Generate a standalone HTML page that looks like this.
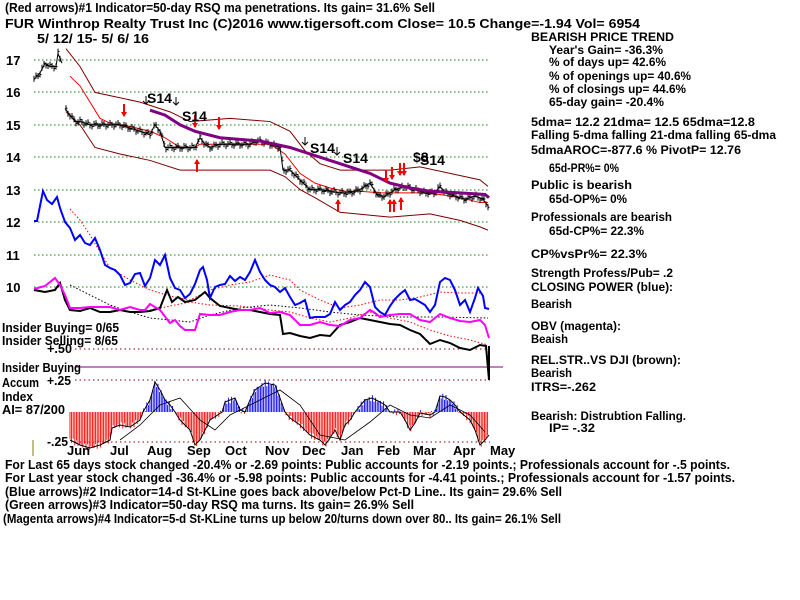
<!DOCTYPE html>
<html><head><meta charset="utf-8"><style>
html,body{margin:0;padding:0;background:#fff;}
svg{display:block;}
text{font-family:"Liberation Sans",Arial,sans-serif;font-weight:bold;fill:#000;}
</style></head><body>
<svg id="s" width="800" height="600" viewBox="0 0 800 600" xmlns="http://www.w3.org/2000/svg">
<g font-size="13">
<text x="5" y="12" textLength="430" lengthAdjust="spacingAndGlyphs">(Red arrows)#1 Indicator=50-day RSQ ma penetrations. Its gain= 31.6% Sell</text>
<text x="5" y="28" textLength="635" lengthAdjust="spacingAndGlyphs">FUR   Winthrop Realty Trust Inc   (C)2016 www.tigersoft.com      Close=  10.5   Change=-1.94  Vol= 6954</text>
<text x="37" y="43" textLength="112" lengthAdjust="spacingAndGlyphs">5/ 12/ 15- 5/ 6/ 16</text>
<text x="6" y="65">17</text><text x="6" y="97">16</text><text x="6" y="130">15</text><text x="6" y="162">14</text>
<text x="6" y="195">13</text><text x="6" y="227">12</text><text x="6" y="260">11</text><text x="6" y="292">10</text>
</g>
<g stroke="#008000" stroke-dasharray="1.5,2.5" stroke-width="1">
<line x1="34" y1="60" x2="490" y2="60"/><line x1="34" y1="92" x2="490" y2="92"/><line x1="34" y1="125" x2="490" y2="125"/><line x1="34" y1="157" x2="490" y2="157"/><line x1="34" y1="190" x2="490" y2="190"/><line x1="34" y1="222" x2="490" y2="222"/><line x1="34" y1="255" x2="490" y2="255"/><line x1="34" y1="287" x2="490" y2="287"/>
</g>
<g stroke="#800000" stroke-dasharray="1.5,3" stroke-width="1">
<line x1="75" y1="349" x2="490" y2="349"/><line x1="75" y1="380" x2="490" y2="380"/><line x1="75" y1="442" x2="490" y2="442"/>
</g>
<line x1="75" y1="367" x2="503" y2="367" stroke="#800080" stroke-width="1"/>
<line x1="33" y1="440" x2="33" y2="456" stroke="#808000" stroke-width="1"/>
<g id="dyn"></g>
<g font-size="13">
<text x="2" y="332" textLength="117" lengthAdjust="spacingAndGlyphs">Insider Buying= 0/65</text>
<text x="2" y="345" textLength="116" lengthAdjust="spacingAndGlyphs">Insider Selling= 8/65</text>
<text x="47" y="353" textLength="25" lengthAdjust="spacingAndGlyphs">+.50</text>
<text x="2" y="372" textLength="79" lengthAdjust="spacingAndGlyphs">Insider Buying</text>
<text x="2" y="387" textLength="37" lengthAdjust="spacingAndGlyphs">Accum</text>
<text x="47" y="385" textLength="24" lengthAdjust="spacingAndGlyphs">+.25</text>
<text x="2" y="401" textLength="31" lengthAdjust="spacingAndGlyphs">Index</text>
<text x="2" y="414" textLength="63" lengthAdjust="spacingAndGlyphs">AI= 87/200</text>
<text x="47" y="446" textLength="21" lengthAdjust="spacingAndGlyphs">-.25</text>
<text x="67" y="455">Jun</text><text x="110" y="455">Jul</text><text x="147" y="455">Aug</text><text x="187" y="455">Sep</text><text x="225" y="455">Oct</text><text x="265" y="455">Nov</text><text x="302" y="455">Dec</text><text x="341" y="455">Jan</text><text x="377" y="455">Feb</text><text x="413" y="455">Mar</text><text x="453" y="455">Apr</text><text x="490" y="455">May</text>
<text x="5" y="469" textLength="725" lengthAdjust="spacingAndGlyphs">For Last 65 days stock changed -20.4% or -2.69 points:  Public accounts for -2.19 points.;  Professionals account for -.5 points.</text>
<text x="5" y="482" textLength="730" lengthAdjust="spacingAndGlyphs">For Last year stock changed -36.4% or -5.98 points:  Public accounts for -4.41 points.;  Professionals account for -1.57 points.</text>
<text x="5" y="496" textLength="557" lengthAdjust="spacingAndGlyphs">(Blue arrows)#2 Indicator=14-d St-KLine goes back above/below Pct-D Line.. Its gain= 29.6% Sell</text>
<text x="5" y="509" textLength="409" lengthAdjust="spacingAndGlyphs">(Green arrows)#3 Indicator=50-day RSQ ma turns. Its gain= 26.9% Sell</text>
<text x="3" y="523" textLength="558" lengthAdjust="spacingAndGlyphs">(Magenta arrows)#4 Indicator=5-d St-KLine turns up below 20/turns down over 80.. Its gain= 26.1% Sell</text>
</g>
<g font-size="12" id="rp"></g>
<g font-size="14">
<text x="147" y="103">S14</text><text x="182" y="121">S14</text><text x="310" y="153">S14</text><text x="343" y="163">S14</text><text x="413" y="162">$8</text><text x="420" y="165">S14</text>
</g>
</svg>
<script>
var NS="http://www.w3.org/2000/svg",dyn=document.getElementById("dyn");
function el(t,a){var e=document.createElementNS(NS,t);for(var k in a)e.setAttribute(k,a[k]);dyn.appendChild(e);return e;}
function P(x){return 60+(17-x)*32.4;}
function pl(pts,price,attrs){var s=[];for(var i=0;i<pts.length;i+=2)s.push(pts[i]+","+(price?P(pts[i+1]):pts[i+1]));attrs.points=s.join(" ");attrs.fill="none";el("polyline",attrs);}
function interp(pts,x){for(var i=0;i<pts.length-2;i+=2){if(x>=pts[i]&&x<=pts[i+2]){var t=(x-pts[i])/(pts[i+2]-pts[i]);return pts[i+1]+t*(pts[i+3]-pts[i+1]);}}return pts[pts.length-1];}
var ai=[70,440,80,445,90,448,100,445,110,440,112,428,120,425,130,427,140,420,143,412,150,400,155,382,160,390,165,400,170,405,175,412,180,420,190,430,195,445,200,440,205,430,210,420,222,412,225,402,235,398,240,410,245,412,250,400,255,390,265,383,275,385,280,398,285,412,290,418,300,425,310,435,320,440,325,445,330,438,335,430,340,440,345,425,350,420,355,412,365,400,372,398,380,402,385,405,390,412,400,412,405,420,410,430,415,423,420,413,430,415,435,412,440,396,445,397,450,400,455,405,460,412,470,420,475,430,480,445,485,440,489,435];
for(var x=70;x<=489;x+=1.6){var y=interp(ai,x)+Math.sin(x*1.7)*3;el("line",{x1:x,y1:412,x2:x,y2:y,stroke:y<412?"#0000ff":"#ff0000","stroke-width":"0.9"});}
pl(ai,false,{stroke:"#000","stroke-width":"1"});
pl([120,440,140,425,160,405,180,398,200,420,215,430,230,415,250,405,280,390,300,405,320,435,345,440,370,422,390,405,410,415,430,418,450,405,470,415,485,432],false,{stroke:"#000","stroke-width":"0.8"});
pl([70,209,80,220,90,235,100,252,110,268,130,280,150,290,170,296,190,300,210,290,230,285,250,282,270,275,290,280,300,290,320,300,340,308,360,305,380,300,400,300,420,297,440,292,460,293,480,293],false,{stroke:"#ff0000","stroke-dasharray":"1.5,2"});
pl([150,310,170,306,190,302,210,305,240,306,270,310,290,312,310,318,330,322,350,318,370,312,390,318,410,322,430,330,450,336,470,340,488,345],false,{stroke:"#ff0000","stroke-dasharray":"1.5,2"});
pl([70,285,90,295,110,305,130,312,150,318,170,320,190,322,210,315,240,308,270,305,300,308,330,312,360,315,400,317,440,317,488,318],false,{stroke:"#000","stroke-dasharray":"1.5,2"});
pl([34,290,45,292,55,290,60,283,65,300,70,310,80,311,90,308,100,312,110,312,120,310,130,312,140,312,150,311,160,308,167,290,172,302,178,297,185,302,195,300,200,296,205,292,210,298,220,306,230,308,240,310,250,310,260,312,270,314,280,315,283,334,290,333,300,336,310,338,320,335,330,336,340,325,350,322,360,318,370,320,380,322,390,324,400,325,410,330,420,334,430,344,440,340,450,343,460,348,470,350,480,345,486,346,489,380],false,{stroke:"#000","stroke-width":"2"});
pl([34,289,45,286,55,278,60,285,65,295,70,308,80,308,90,307,100,307,110,307,120,310,130,307,140,310,145,310,150,304,160,310,170,323,175,320,180,326,185,330,195,330,200,314,210,315,220,315,230,312,240,310,250,310,260,308,270,313,280,312,290,315,300,325,310,325,320,322,330,325,340,326,350,320,360,318,370,310,375,313,380,317,390,315,400,314,410,314,420,320,430,322,440,314,450,318,460,321,470,322,480,320,485,325,489,338],false,{stroke:"#ff00ff","stroke-width":"2"});
pl([34,221,37,221,40,206,43,191,47,200,52,204,57,197,60,208,65,222,70,228,75,240,80,235,85,243,90,245,95,238,100,250,105,265,110,268,115,270,120,275,125,285,130,283,135,274,140,273,145,286,150,278,155,260,160,265,165,255,170,278,175,288,180,290,185,298,190,294,195,284,200,270,203,267,207,280,210,298,215,287,220,285,225,284,230,276,235,281,240,277,245,280,250,272,255,260,260,272,265,280,270,285,275,287,280,292,285,288,290,297,295,305,300,303,305,300,310,318,315,317,320,317,325,317,330,314,335,302,340,310,345,305,350,302,355,295,360,290,365,282,370,287,375,307,380,312,385,315,390,306,395,299,400,294,405,290,410,300,415,299,420,302,425,305,430,312,435,305,440,282,445,278,450,280,455,290,460,305,465,300,470,312,475,298,478,288,483,296,485,308,489,309],false,{stroke:"#0000ff","stroke-width":"2"});
el("line",{x1:489,y1:346,x2:489,y2:380,stroke:"#000","stroke-width":"2"});
pl([66,17.35,80,16.8,95,16.0,110,15.9,140,15.7,170,15.4,190,15.1,230,15.2,270,15.1,290,14.8,305,14.2,320,13.8,340,13.6,360,13.6,390,13.6,420,13.7,450,13.5,480,13.3,488,13.1],true,{stroke:"#800000","stroke-width":"1"});
pl([66,15.4,80,15.0,95,14.3,120,14.1,150,13.9,180,13.6,200,13.6,230,13.6,270,13.6,285,13.4,300,13.0,315,12.75,340,12.3,390,12.15,430,12.25,460,12.05,480,11.85,488,11.75],true,{stroke:"#800000","stroke-width":"1"});
pl([70,16.5,80,16.2,90,15.7,100,15.2,110,15.05,130,14.95,150,14.8,165,14.6,180,14.3,195,14.3,200,14.4,230,14.4,270,14.4,285,14.1,300,13.5,315,13.2,330,13.05,345,12.95,360,12.95,380,12.9,400,12.9,420,12.9,440,12.85,460,12.75,480,12.6,488,12.6],true,{stroke:"#ff0000","stroke-width":"1"});
var pr=[34,16.4,40,16.6,45,16.9,50,16.8,56,16.8,58,17.2,62,16.9,65,15.5,70,15.3,75,15.1,80,15.1,90,15.0,100,15.0,110,15.0,120,15.0,130,14.9,140,14.8,150,14.7,155,15.0,160,14.8,165,14.3,170,14.3,180,14.3,190,14.3,195,14.3,200,14.6,205,14.4,210,14.3,220,14.4,230,14.4,240,14.4,250,14.4,256,14.5,260,14.5,270,14.4,280,14.3,283,13.6,290,13.6,300,13.3,310,13.0,320,13.0,330,12.95,340,12.9,350,12.9,360,13.0,370,13.2,378,12.8,385,12.8,395,13.0,405,13.1,415,13.0,425,12.9,435,12.9,440,13.1,445,12.9,455,12.8,465,12.7,475,12.8,483,12.7,488,12.5];
for(var x=34;x<=488;x+=2){if(x>61&&x<65)continue;var p=interp(pr,x)+Math.sin(x*2.3)*0.06;var y=P(p);el("line",{x1:x,y1:y-3,x2:x,y2:y+3,stroke:"#000","stroke-width":"1"});el("line",{x1:x,y1:y,x2:x+1.5,y2:y,stroke:"#000","stroke-width":"1"});}
pl(pr.slice(0,14),true,{stroke:"#000","stroke-width":"1"});
pl(pr.slice(14),true,{stroke:"#000","stroke-width":"1"});
pl([150,15.45,165,15.3,180,15.0,195,14.8,220,14.6,260,14.5,290,14.3,320,14.0,345,13.75,370,13.5,390,13.2,410,13.05,430,12.95,460,12.9,485,12.85,489,12.75],true,{stroke:"#800080","stroke-width":"3"});
function arr(x,y,up){var d=up?-1:1;el("line",{x1:x,y1:y,x2:x,y2:y+12*d,stroke:"#ff0000","stroke-width":"2"});el("polygon",{points:(x-3)+","+(y+8*d)+" "+(x+3)+","+(y+8*d)+" "+x+","+(y+13*d),fill:"#ff0000"});}
arr(124,104,false);arr(195,115,false);arr(219,117,false);arr(197,172,true);arr(386,170,false);arr(392,167,false);arr(400,163,false);arr(404,163,false);arr(338,212,true);arr(390,212,true);arr(394,212,true);arr(401,210,true);
[[146,104],[176,105],[305,145],[337,155]].forEach(function(a){el("line",{x1:a[0],y1:a[1]-8,x2:a[0],y2:a[1],stroke:"#000"});el("polyline",{points:(a[0]-3)+","+(a[1]-3)+" "+a[0]+","+a[1]+" "+(a[0]+3)+","+(a[1]-3),fill:"none",stroke:"#000"});});
var rp=document.getElementById("rp");
[[531,37,143,"BEARISH PRICE TREND"],[549,50,114,"Year's Gain= -36.3%"],[549,62,117,"% of days up= 42.6%"],[549,76,142,"% of openings up= 40.6%"],[549,89,137,"% of closings up= 44.6%"],[549,102,115,"65-day gain= -20.4%"],[531,122,224,"5dma= 12.2 21dma= 12.5 65dma=12.8"],[531,135,245,"Falling 5-dma  falling 21-dma  falling 65-dma"],[531,150,210,"5dmaAROC=-877.6 %  PivotP= 12.76"],[549,168,70,"65d-PR%= 0%"],[531,185,101,"Public is bearish"],[549,199,78,"65d-OP%= 0%"],[531,217,141,"Professionals are bearish"],[549,231,95,"65d-CP%= 22.3%"],[531,254,116,"CP%vsPr%=  22.3%"],[531,273,142,"Strength Profess/Pub= .2"],[531,287,142,"CLOSING POWER (blue):"],[531,304,41,"Bearish"],[531,326,90,"OBV (magenta):"],[531,339,37,"Beaish"],[531,360,150,"REL.STR..VS DJI (brown):"],[531,373,41,"Bearish"],[531,387,65,"ITRS=-.262"],[531,416,155,"Bearish: Distrubtion Falling."],[549,428,46,"IP= -.32"]].forEach(function(t){var e=document.createElementNS(NS,"text");e.setAttribute("x",t[0]);e.setAttribute("y",t[1]+4);e.setAttribute("textLength",t[2]);e.setAttribute("lengthAdjust","spacingAndGlyphs");e.textContent=t[3];rp.appendChild(e);});
</script>
</body></html>
